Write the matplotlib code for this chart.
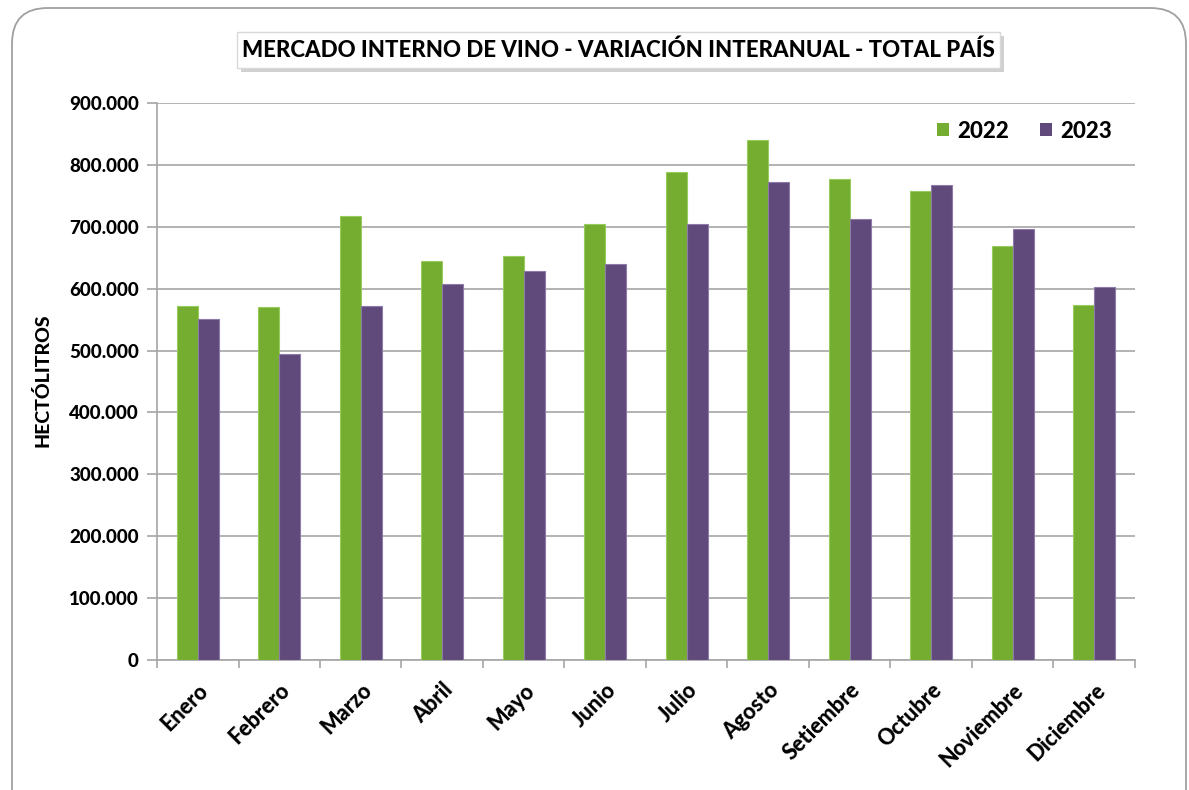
import numpy as np
import matplotlib
matplotlib.use('Agg')
import matplotlib.pyplot as plt
from matplotlib.patches import FancyBboxPatch, Rectangle, Patch

meses = ['Enero', 'Febrero', 'Marzo', 'Abril', 'Mayo', 'Junio', 'Julio',
         'Agosto', 'Setiembre', 'Octubre', 'Noviembre', 'Diciembre']
vol_2022 = [572000, 571000, 718000, 645000, 653000, 705000, 788000,
            841000, 777000, 758000, 669000, 573000]
vol_2023 = [551000, 494000, 572000, 608000, 629000, 640000, 704000,
            773000, 713000, 767000, 697000, 602000]
y_ticks = [0, 100000, 200000, 300000, 400000, 500000, 600000, 700000, 800000, 900000]

verde = '#74AD30'
violeta = '#604A7B'
gris = '#A6A6A6'

plt.rcParams['font.family'] = ['Lato', 'DejaVu Sans']
plt.rcParams['font.weight'] = 'black'

W, H = 1189, 790
fig = plt.figure(figsize=(W / 100, H / 100), dpi=100)
ax = fig.add_axes([157 / W, 1 - 660 / H, (1135 - 157) / W, (660 - 103) / H])

# outer rounded frame
frame = FancyBboxPatch((12 / W, -0.1), (1186 - 12) / W, 1 - 8 / H + 0.1,
                       boxstyle='round,pad=0,rounding_size=0.03',
                       transform=fig.transFigure, facecolor='white',
                       edgecolor='#A0A0A0', linewidth=1.3, zorder=-10,
                       mutation_aspect=W / H)
fig.patches.append(frame)

x = np.arange(len(meses))
w = 0.26
ax.bar(x - w / 2, vol_2022, width=w, color=verde, edgecolor='#9ACB5E',
       linewidth=0.8, zorder=3, label='2022')
ax.bar(x + w / 2, vol_2023, width=w, color=violeta, edgecolor='#8E7AA8',
       linewidth=0.8, zorder=3, label='2023')

ax.set_xlim(-0.5, len(meses) - 0.5)
ax.set_ylim(0, 900000)
ax.set_yticks(y_ticks)
ax.set_yticklabels(['0' if v == 0 else f'{v // 1000}.000' for v in y_ticks])
ax.yaxis.grid(True, color=gris, linewidth=1.2, zorder=0)
ax.set_axisbelow(True)

ax.set_xticks(x)
ax.set_xticklabels(meses, rotation=45, ha='right', rotation_mode='anchor')
ax.set_xticks(np.arange(-0.5, len(meses)), minor=True)
ax.tick_params(axis='x', which='major', length=0, pad=14, labelsize=15.5)
ax.tick_params(axis='x', which='minor', length=6, color=gris, width=1.2)
ax.tick_params(axis='y', length=7, color=gris, width=1.2, labelsize=13.5, pad=6)

for s in ['top', 'right']:
    ax.spines[s].set_visible(False)
for s in ['left', 'bottom']:
    ax.spines[s].set_color(gris)
    ax.spines[s].set_linewidth(1.2)

fig.text(42 / W, 1 - 380 / H, 'HECTÓLITROS', rotation=90, ha='center',
         va='center', fontsize=14)

# title box with shadow
bx0, bx1, by0, by1 = 237, 1000, 32, 68
fig.patches.append(Rectangle(((bx0 + 4) / W, 1 - (by1 + 4) / H), (bx1 - bx0) / W,
                             (by1 - by0) / H, transform=fig.transFigure,
                             facecolor='#D0D0D0', edgecolor='none', zorder=1))
fig.patches.append(Rectangle((bx0 / W, 1 - by1 / H), (bx1 - bx0) / W,
                             (by1 - by0) / H, transform=fig.transFigure,
                             facecolor='white', edgecolor='#D8D8D8',
                             linewidth=1, zorder=2))
fig.text((bx0 + bx1) / 2 / W, 1 - 50 / H,
         'MERCADO INTERNO DE VINO - VARIACIÓN INTERANUAL - TOTAL PAÍS',
         ha='center', va='center', fontsize=16, zorder=3)

handles = [Patch(facecolor=verde, edgecolor='none'),
           Patch(facecolor=violeta, edgecolor='none')]
ax.legend(handles, ['2022', '2023'], loc='center right',
          bbox_to_anchor=(1112 / W, 1 - 131 / H), bbox_transform=fig.transFigure,
          ncol=2, frameon=False, handlelength=0.55, handleheight=0.55,
          handletextpad=0.35, columnspacing=1.4, borderpad=0, borderaxespad=0,
          prop={'weight': 'black', 'size': 16})

fig.savefig('out.png', dpi=100)
